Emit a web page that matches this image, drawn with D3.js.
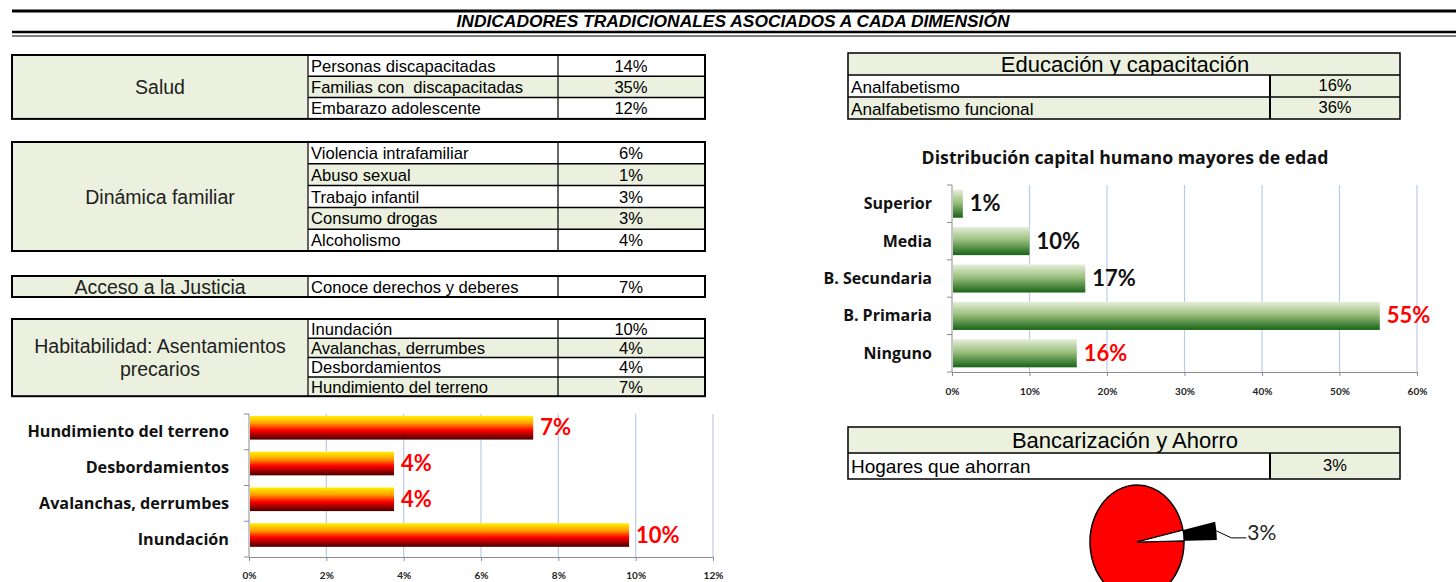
<!DOCTYPE html>
<html>
<head>
<meta charset="utf-8">
<script src="https://cdn.jsdelivr.net/npm/d3@7"></script>
<style>
  body { margin: 0; background: #fff; }
  svg { display: block; }
  .tbl { font-family: "Liberation Sans", Arial, sans-serif; fill: #000; }
  .tbl text { white-space: pre; }
  .chart { font-family: Lato, "Open Sans", sans-serif; }
</style>
</head>
<body>
<script>
// ---- data ----
const pageTitle = "INDICADORES TRADICIONALES ASOCIADOS A CADA DIMENSIÓN";

const saludRows = ["Personas discapacitadas", "Familias con  discapacitadas", "Embarazo adolescente"];
const saludVals = [0.14, 0.35, 0.12];

const dinamicaRows = ["Violencia intrafamiliar", "Abuso sexual", "Trabajo infantil", "Consumo drogas", "Alcoholismo"];
const dinamicaVals = [0.06, 0.01, 0.03, 0.03, 0.04];

const justiciaRows = ["Conoce derechos y deberes"];
const justiciaVals = [0.07];

const habitRows = ["Inundación", "Avalanchas, derrumbes", "Desbordamientos", "Hundimiento del terreno"];
const habitVals = [0.10, 0.04, 0.04, 0.07];

const eduRows = ["Analfabetismo", "Analfabetismo funcional"];
const eduVals = [0.16, 0.36];

const ahorroRows = ["Hogares que ahorran"];
const ahorroVals = [0.03];

// chart: Distribución capital humano mayores de edad
const capCats = ["Superior", "Media", "B. Secundaria", "B. Primaria", "Ninguno"];
const capVals = [0.014, 0.10, 0.172, 0.552, 0.161];
const capLabels = ["1%", "10%", "17%", "55%", "16%"];
const capRed = ["B. Primaria", "Ninguno"];
const capTicks = [0, 0.1, 0.2, 0.3, 0.4, 0.5, 0.6];

// chart: habitabilidad bars (top to bottom)
const habCats = ["Hundimiento del terreno", "Desbordamientos", "Avalanchas, derrumbes", "Inundación"];
const habBarVals = [0.0735, 0.0375, 0.0375, 0.0983];
const habLabels = ["7%", "4%", "4%", "10%"];
const habTicks = [0, 0.02, 0.04, 0.06, 0.08, 0.10, 0.12];

// pie
const pieVals = [0.03, 0.97];
const pieLabel = "3%";

const GREEN = "#ebf1de";
const pct = d3.format(".0%");

const svg = d3.select("body").append("svg")
    .attr("width", 1456)
    .attr("height", 582);

const defs = svg.append("defs");
const gGreen = defs.append("linearGradient").attr("id", "gradGreen")
    .attr("x1", 0).attr("y1", 0).attr("x2", 0).attr("y2", 1);
gGreen.append("stop").attr("offset", "0%").attr("stop-color", "#e4eed8");
gGreen.append("stop").attr("offset", "45%").attr("stop-color", "#9cc07f");
gGreen.append("stop").attr("offset", "100%").attr("stop-color", "#176417");

const gRed = defs.append("linearGradient").attr("id", "gradRed")
    .attr("x1", 0).attr("y1", 0).attr("x2", 0).attr("y2", 1);
gRed.append("stop").attr("offset", "0%").attr("stop-color", "#fff200");
gRed.append("stop").attr("offset", "30%").attr("stop-color", "#ffa000");
gRed.append("stop").attr("offset", "60%").attr("stop-color", "#ff0000");
gRed.append("stop").attr("offset", "100%").attr("stop-color", "#4a0000");

/**
 * Title with rules
 */
svg.append("line").attr("x1", 12).attr("x2", 1456).attr("y1", 11).attr("y2", 11)
    .attr("stroke", "#000").attr("stroke-width", 3);
svg.append("line").attr("x1", 12).attr("x2", 1456).attr("y1", 32).attr("y2", 32)
    .attr("stroke", "#000").attr("stroke-width", 2.5);
svg.append("line").attr("x1", 12).attr("x2", 1456).attr("y1", 36).attr("y2", 36)
    .attr("stroke", "#000").attr("stroke-width", 1);
svg.append("text")
    .attr("x", 733).attr("y", 27)
    .attr("text-anchor", "middle")
    .style("font-family", "'Liberation Sans Narrow', 'Arial Narrow', sans-serif")
    .style("font-weight", "bold").style("font-style", "italic")
    .style("font-size", "17.4px")
    .text(pageTitle);

/**
 * Left tables
 */
function leftTable(y0, rowH, labelLines, rows, vals) {
    const g = svg.append("g").attr("class", "tbl");
    const h = rowH * rows.length;
    g.append("rect").attr("x", 12).attr("y", y0).attr("width", 296).attr("height", h).attr("fill", GREEN);
    rows.forEach((r, i) => {
        const y = y0 + i * rowH;
        g.append("rect").attr("x", 308).attr("y", y).attr("width", 397).attr("height", rowH)
            .attr("fill", i % 2 ? GREEN : "#fff");
        g.append("text").attr("x", 311).attr("y", y + rowH / 2 + 6)
            .attr("xml:space", "preserve")
            .style("font-size", "16.6px").text(r);
        g.append("text").attr("x", 631).attr("y", y + rowH / 2 + 6)
            .attr("text-anchor", "middle").style("font-size", "16.6px").text(pct(vals[i]));
        if (i > 0) {
            g.append("line").attr("x1", 308).attr("x2", 705).attr("y1", y).attr("y2", y)
                .attr("stroke", "#000").attr("stroke-width", 1.5);
        }
    });
    [308, 558].forEach(x => {
        g.append("line").attr("x1", x).attr("x2", x).attr("y1", y0).attr("y2", y0 + h)
            .attr("stroke", "#000").attr("stroke-width", 1.2);
    });
    g.append("rect").attr("x", 12).attr("y", y0).attr("width", 693).attr("height", h)
        .attr("fill", "none").attr("stroke", "#000").attr("stroke-width", 2);
    const lh = 23;
    labelLines.forEach((t, k) => {
        g.append("text").attr("x", 160)
            .attr("y", y0 + h / 2 + 7 + (k - (labelLines.length - 1) / 2) * lh)
            .attr("text-anchor", "middle").style("font-size", "19.5px").style("fill", "#222")
            .text(t);
    });
}

leftTable(55, 21.3, ["Salud"], saludRows, saludVals);
leftTable(142, 21.8, ["Dinámica familiar"], dinamicaRows, dinamicaVals);
leftTable(276, 21, ["Acceso a la Justicia"], justiciaRows, justiciaVals);
leftTable(319, 19.3, ["Habitabilidad: Asentamientos", "precarios"], habitRows, habitVals);

/**
 * Right tables
 */
function rightTable(y0, headH, rowH, header, rows, vals, rowFont) {
    const g = svg.append("g").attr("class", "tbl");
    const h = headH + rowH * rows.length;
    g.append("rect").attr("x", 848).attr("y", y0).attr("width", 552).attr("height", headH).attr("fill", GREEN);
    g.append("text").attr("x", 1125).attr("y", y0 + headH / 2 + 8)
        .attr("text-anchor", "middle").style("font-size", "22px").text(header);
    rows.forEach((r, i) => {
        const y = y0 + headH + i * rowH;
        g.append("rect").attr("x", 848).attr("y", y).attr("width", 422).attr("height", rowH)
            .attr("fill", i % 2 ? GREEN : "#fff");
        g.append("rect").attr("x", 1270).attr("y", y).attr("width", 130).attr("height", rowH)
            .attr("fill", GREEN);
        g.append("text").attr("x", 851).attr("y", y + rowH / 2 + 6.5)
            .style("font-size", rowFont + "px").text(r);
        g.append("text").attr("x", 1335).attr("y", y + rowH / 2 + 5)
            .attr("text-anchor", "middle").style("font-size", "16.5px").text(pct(vals[i]));
        g.append("line").attr("x1", 848).attr("x2", 1400).attr("y1", y).attr("y2", y)
            .attr("stroke", "#000").attr("stroke-width", 1.5);
    });
    g.append("line").attr("x1", 1270).attr("x2", 1270).attr("y1", y0 + headH).attr("y2", y0 + h)
        .attr("stroke", "#000").attr("stroke-width", 2);
    g.append("rect").attr("x", 848).attr("y", y0).attr("width", 552).attr("height", h)
        .attr("fill", "none").attr("stroke", "#000").attr("stroke-width", 1.5);
}

rightTable(53, 22, 22, "Educación y capacitación", eduRows, eduVals, 17.2);
rightTable(427, 26, 26, "Bancarización y Ahorro", ahorroRows, ahorroVals, 19);

/**
 * Horizontal bar chart helper
 */
function barChart(opt) {
    const g = svg.append("g").attr("class", "chart");
    const x = d3.scaleLinear().domain(opt.xDomain).range(opt.xRange);
    const y = d3.scaleBand().domain(opt.cats).range(opt.yRange).paddingInner(0).paddingOuter(0);
    const [top, bottom] = opt.yRange;
    const bh = y.bandwidth() * opt.barFrac;

    // gridlines
    g.selectAll(".grid").data(opt.ticks.slice(1)).enter().append("line")
        .attr("x1", d => x(d)).attr("x2", d => x(d))
        .attr("y1", top).attr("y2", bottom)
        .attr("stroke", "#b9cce6").attr("stroke-width", 1.2);

    // x axis
    const ax = g.append("g").attr("transform", "translate(0," + bottom + ")")
        .call(d3.axisBottom(x).tickValues(opt.ticks).tickFormat(pct).tickSize(4).tickSizeOuter(0).tickPadding(opt.tickPad));
    ax.select(".domain").attr("stroke", "#8c8c8c");
    ax.selectAll(".tick line").attr("stroke", "#8c8c8c");
    ax.selectAll("text").style("font-family", "Lato, sans-serif").style("font-weight", "bold")
        .style("font-size", "10px").attr("fill", "#222");

    // y axis with ticks at band boundaries
    g.append("line").attr("x1", x(0)).attr("x2", x(0)).attr("y1", top).attr("y2", bottom)
        .attr("stroke", "#8c8c8c");
    g.selectAll(".ytick").data(d3.range(opt.cats.length + 1)).enter().append("line")
        .attr("x1", x(0) - 5).attr("x2", x(0))
        .attr("y1", k => top + k * y.step()).attr("y2", k => top + k * y.step())
        .attr("stroke", "#8c8c8c");

    // category labels
    g.selectAll(".cat").data(opt.cats).enter().append("text")
        .attr("x", x(0) - opt.labelGap)
        .attr("y", d => y(d) + y.bandwidth() / 2 + 5.5)
        .attr("text-anchor", "end")
        .style("font-family", "'Open Sans', sans-serif")
        .style("font-weight", "bold").style("font-size", opt.catFont + "px").attr("fill", "#111")
        .text(d => d);

    // bars
    g.selectAll(".bar").data(opt.cats).enter().append("rect")
        .attr("x", x(0) + 1)
        .attr("y", d => y(d) + opt.barOffset(y.bandwidth(), bh))
        .attr("width", (d, i) => x(opt.vals[i]) - x(0) - 1)
        .attr("height", bh)
        .attr("fill", opt.fill);

    // value labels
    g.selectAll(".val").data(opt.cats).enter().append("text")
        .attr("x", (d, i) => x(opt.vals[i]) + 7)
        .attr("y", d => y(d) + opt.barOffset(y.bandwidth(), bh) + bh / 2 + 7.5)
        .style("font-weight", "bold").style("font-size", "22px")
        .attr("fill", (d, i) => opt.color(d))
        .text((d, i) => opt.labels[i]);
}

// Distribución capital humano
svg.append("text").attr("class", "chart")
    .attr("x", 1125).attr("y", 164)
    .attr("text-anchor", "middle")
    .style("font-family", "'Open Sans', sans-serif")
    .style("font-weight", "bold").style("font-size", "17.7px").attr("fill", "#111")
    .text("Distribución capital humano mayores de edad");

barChart({
    cats: capCats, vals: capVals, labels: capLabels, ticks: capTicks,
    xDomain: [0, 0.6], xRange: [952, 1417], yRange: [185, 372],
    barFrac: 0.75, barOffset: (bw, bh) => (bw - bh) / 2,
    fill: "url(#gradGreen)", color: d => capRed.includes(d) ? "#ff0000" : "#111",
    catFont: 16, labelGap: 20, tickPad: 12
});

// Habitabilidad
barChart({
    cats: habCats, vals: habBarVals, labels: habLabels, ticks: habTicks,
    xDomain: [0, 0.12], xRange: [249, 713], yRange: [414, 557],
    barFrac: 0.66, barOffset: () => 2,
    fill: "url(#gradRed)", color: () => "#ff0000",
    catFont: 16.2, labelGap: 20, tickPad: 11
});

/**
 * Pie: hogares que ahorran
 */
const rx = 47, ry = 57;
const pieG = svg.append("g")
    .attr("transform", "translate(1137,542) scale(1," + (ry / rx) + ")");
const pie = d3.pie().sort(null)
    .startAngle(78 * Math.PI / 180)
    .endAngle(78 * Math.PI / 180 + 2 * Math.PI);
const arcs = pie(pieVals);
const arcIn = d3.arc().innerRadius(0).outerRadius(rx);
const arcOut = d3.arc().innerRadius(0).outerRadius(rx * 1.7);

pieG.append("path").attr("d", arcOut(arcs[0])).attr("fill", "#000");
pieG.append("path").attr("d", arcIn(arcs[1])).attr("fill", "#ff0000")
    .attr("stroke", "#000").attr("stroke-width", 1.5).attr("vector-effect", "non-scaling-stroke");
pieG.append("path").attr("d", arcIn(arcs[0])).attr("fill", "#fff")
    .attr("stroke", "#000").attr("stroke-width", 1).attr("vector-effect", "non-scaling-stroke");

const midA = (arcs[0].startAngle + arcs[0].endAngle) / 2;
const tipX = 1137 + Math.sin(midA) * rx * 1.7;
const tipY = 542 - Math.cos(midA) * rx * 1.7 * (ry / rx);
svg.append("polyline")
    .attr("points", [[tipX, tipY], [tipX + 15, tipY + 7], [tipX + 30, tipY + 7]].map(p => p.join(",")).join(" "))
    .attr("fill", "none").attr("stroke", "#000").attr("stroke-width", 1);
svg.append("text").attr("class", "chart")
    .attr("x", tipX + 31).attr("y", tipY + 9)
    .style("font-size", "21px").attr("fill", "#222")
    .text(pieLabel);
</script>
</body>
</html>
